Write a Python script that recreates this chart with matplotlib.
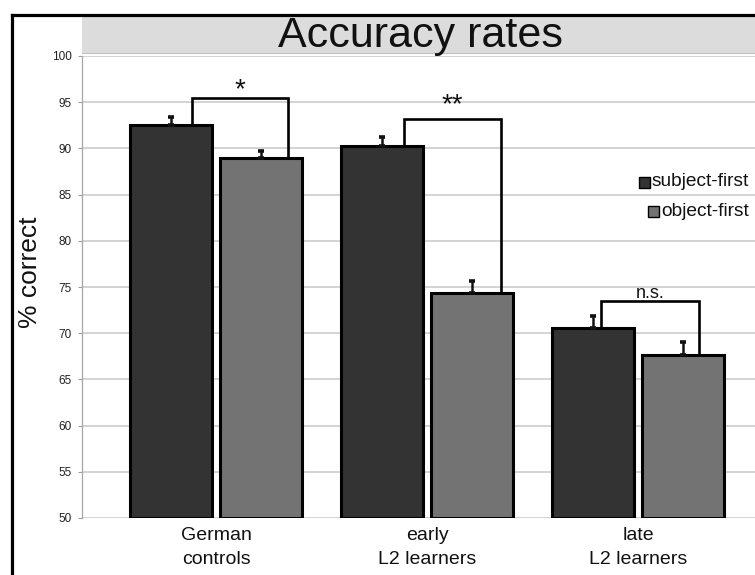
import matplotlib
matplotlib.use('Agg')
import matplotlib.pyplot as plt
import numpy as np
from matplotlib.patches import Rectangle
from matplotlib.lines import Line2D

plt.rcParams['font.family'] = ['Liberation Sans', 'DejaVu Sans']

# ---- data ----
groups = ['German\ncontrols', 'early\nL2 learners', 'late\nL2 learners']
series_names = ['subject-first', 'object-first']
subject_first = [92.5, 90.3, 70.6]
object_first = [89.0, 74.4, 67.6]
subject_err = [0.9, 0.9, 1.3]
object_err = [0.75, 1.2, 1.4]
sig_labels = ['*', '**', 'n.s.']
sig_heights = [95.45, 93.2, 73.5]
yticks = [50, 55, 60, 65, 70, 75, 80, 85, 90, 95, 100]

# ---- layout / style ----
W, H = 755, 575
colors = ['#333333', '#737373']
bar_w = 0.389
off = 0.213
bracket_legs = [(-0.114, 0.341), (-0.109, 0.351), (-0.173, 0.287)]
label_dy = [0.14, 0.76, 0.3]

fig = plt.figure(figsize=(W / 100, H / 100), dpi=100)
fig.patch.set_facecolor('white')

ax = fig.add_axes([82 / W, 57 / H, (W - 82) / W, 462 / H])
x = np.arange(len(groups))

for vals, errs, sign, c in [(subject_first, subject_err, -1, colors[0]),
                            (object_first, object_err, 1, colors[1])]:
    vals = np.array(vals)
    ax.bar(x + sign * off, vals - 50, bar_w, bottom=50, color=c,
           edgecolor='black', linewidth=2.2, zorder=3)
    ax.errorbar(x + sign * off, vals, yerr=[np.zeros(len(vals)), errs],
                fmt='none', ecolor='#111111', elinewidth=1.8,
                capsize=2.3, capthick=2.6, zorder=4)

for i in range(len(groups)):
    lx = x[i] + bracket_legs[i][0]
    rx = x[i] + bracket_legs[i][1]
    h = sig_heights[i]
    ax.plot([lx, lx, rx, rx], [subject_first[i], h, h, object_first[i]],
            color='black', lw=1.9, zorder=5, solid_joinstyle='miter')
    fs = 20 if '*' in sig_labels[i] else 13
    ax.text((lx + rx) / 2, h + label_dy[i], sig_labels[i], ha='center',
            va='baseline', fontsize=fs, color='#111111', zorder=6)

ax.set_xlim((82 - 216) / 211, (W - 216) / 211)
ax.set_ylim(50, 100)
ax.set_yticks(yticks)
ax.set_xticks(x)
ax.set_xticklabels(groups, fontsize=14, color='#111111', linespacing=1.5)
ax.tick_params(axis='x', length=0, pad=6.5)
ax.tick_params(axis='y', length=3, width=0.8, color='#a0a0a0', pad=4.5,
               labelsize=8.5, labelcolor='#222222')
ax.yaxis.grid(True, color='#c8c8c8', lw=1.1)
ax.set_axisbelow(True)
for s in ['top', 'right', 'bottom']:
    ax.spines[s].set_visible(False)
ax.spines['left'].set_color('#a6a6a6')
ax.spines['left'].set_linewidth(0.9)

# title band
fig.add_artist(Rectangle((82 / W, 1 - 53 / H), (W - 82) / W, 37 / H,
                         transform=fig.transFigure, facecolor='#dcdcdc',
                         edgecolor='none', zorder=0))
fig.add_artist(Line2D([82 / W, 1], [1 - 53 / H] * 2, color='#c0c0c0', lw=0.8))
fig.text(420 / W, 1 - 36 / H, 'Accuracy rates', ha='center', va='center',
         fontsize=31, color='#111111')

# y label
fig.text(30 / W, 1 - 272 / H, '% correct', rotation=90, ha='center',
         va='center', fontsize=19, color='#111111')

# frame
fig.add_artist(Line2D([11.5 / W, 11.5 / W], [0, 1 - 14.5 / H], color='black', lw=2.3))
fig.add_artist(Line2D([11.5 / W, 1], [1 - 14.5 / H] * 2, color='black', lw=2.3))

# legend (manual, right side)
leg_pos = [(639, 182, 652), (648, 211, 661)]
for (sx, sy, tx), name, c in zip(leg_pos, series_names, colors):
    fig.add_artist(Rectangle((sx / W, 1 - (sy + 5.5) / H), 11 / W, 11 / H,
                             transform=fig.transFigure, facecolor=c,
                             edgecolor='black', lw=1))
    fig.text(tx / W, 1 - sy / H, name, ha='left', va='center',
             fontsize=13.8, color='#111111')

fig.savefig('out.png', dpi=100)
